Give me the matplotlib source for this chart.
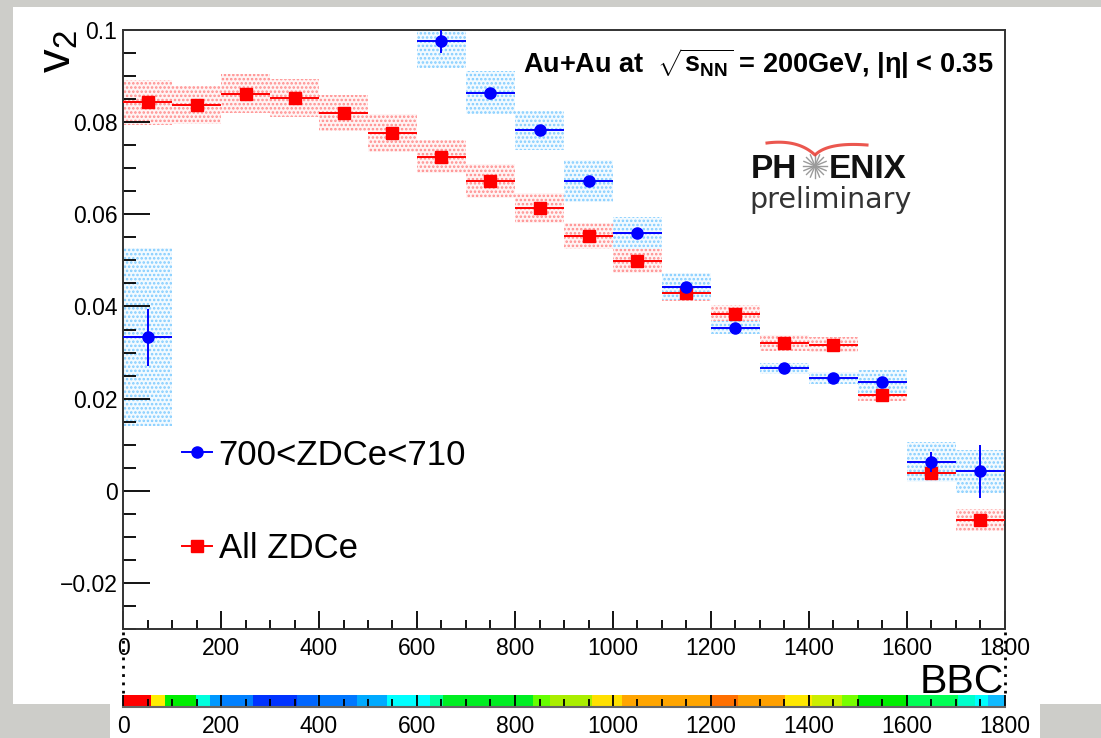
import numpy as np
import matplotlib.pyplot as plt
from matplotlib.lines import Line2D
from matplotlib.patches import Rectangle

plt.rcParams['font.family'] = ['Liberation Sans', 'DejaVu Sans']
plt.rcParams['mathtext.fontset'] = 'custom'
plt.rcParams['mathtext.rm'] = 'Liberation Sans'
plt.rcParams['mathtext.bf'] = 'Liberation Sans:bold'
plt.rcParams['mathtext.it'] = 'Liberation Sans:italic'
plt.rcParams['hatch.linewidth'] = 1.2

# 数据: BBC 分箱中心
bbc_all = [50, 150, 250, 350, 450, 550, 650, 750, 850, 950,
           1050, 1150, 1250, 1350, 1450, 1550, 1650, 1750]
v2_all = [0.0843, 0.0838, 0.0862, 0.0852, 0.0820, 0.0776, 0.0725, 0.0672, 0.0614,
          0.0553, 0.0499, 0.0430, 0.0384, 0.0321, 0.0317, 0.0207, 0.0039, -0.0064]
stat_all = [0.0006, 0.0006, 0.0006, 0.0006, 0.0006, 0.0006, 0.0006, 0.0006, 0.0006,
            0.0006, 0.0006, 0.0006, 0.0006, 0.0007, 0.0007, 0.0008, 0.0009, 0.0010]
sys_all = [0.0049, 0.0041, 0.0043, 0.0041, 0.0040, 0.0041, 0.0036, 0.0037, 0.0032,
           0.0029, 0.0026, 0.0018, 0.0020, 0.0018, 0.0016, 0.0012, 0.0010, 0.0024]

bbc_zdc = [50, 650, 750, 850, 950, 1050, 1150, 1250, 1350, 1450, 1550, 1650, 1750]
v2_zdc = [0.0333, 0.0977, 0.0864, 0.0782, 0.0672, 0.0559, 0.0443, 0.0354, 0.0266,
          0.0244, 0.0237, 0.0062, 0.0042]
stat_zdc = [0.0062, 0.0026, 0.0008, 0.0008, 0.0008, 0.0008, 0.0008, 0.0008, 0.0008,
            0.0008, 0.0010, 0.0022, 0.0057]
sys_zdc = [0.0193, 0.0060, 0.0046, 0.0043, 0.0046, 0.0035, 0.0030, 0.0014, 0.0012,
           0.0013, 0.0025, 0.0043, 0.0047]

bin_width = 100

# 下方色条 (BBC 分段颜色)
cbar_edges = [0, 57, 86, 149, 178, 198, 265, 355, 396, 478, 539, 626, 653, 837, 871,
              957, 1018, 1202, 1255, 1351, 1406, 1467, 1500, 1602, 1704, 1739, 1765, 1800]
cbar_colors = ['#ff0000', '#ffee00', '#00ee00', '#00ffdd', '#0099ff', '#0080ff',
               '#0033ff', '#0066ff', '#0077ff', '#00aaff', '#00ffff', '#00ff99',
               '#00ee22', '#66ff00', '#aaee00', '#ffe000', '#ffa500', '#ff7000',
               '#ffa000', '#ffe800', '#ccee00', '#77ff00', '#00ee00', '#00ff55',
               '#00ffcc', '#00ffff', '#11bbff']

W, H = 1101, 738
fig = plt.figure(figsize=(W / 100, H / 100), dpi=100, facecolor='#cdcdc9')
fig.patches.append(Rectangle((13 / W, 1 - 704 / H), 1 - 13 / W, 697 / H,
                             transform=fig.transFigure, fc='white', ec='none', zorder=-10))
fig.patches.append(Rectangle((110 / W, 0), 930 / W, 1 - 704 / H + 0.002,
                             transform=fig.transFigure, fc='white', ec='none', zorder=-10))

ax = fig.add_axes([123 / W, 1 - 629 / H, 882 / W, 599 / H])

# 系统误差框
v2a = np.array(v2_all)
sa = np.array(sys_all)
ax.bar(bbc_all, 2 * sa, bottom=v2a - sa, width=bin_width, facecolor='#fff4f4',
       edgecolor='#ff8c8c', hatch='....', linewidth=0, zorder=1)
v2z = np.array(v2_zdc)
sz = np.array(sys_zdc)
ax.bar(bbc_zdc, 2 * sz, bottom=v2z - sz, width=bin_width, facecolor='#f2faff',
       edgecolor='#80ccff', hatch='....', linewidth=0, zorder=1)

# 统计误差 + 数据点
ax.errorbar(bbc_all, v2_all, xerr=bin_width / 2, yerr=stat_all, fmt='s', color='red',
            ms=8.5, lw=1.4, capsize=0, zorder=3)
ax.errorbar(bbc_zdc, v2_zdc, xerr=bin_width / 2, yerr=stat_zdc, fmt='o', color='blue',
            ms=8, lw=1.4, capsize=0, zorder=4)

ax.set_xlim(0, 1800)
ax.set_ylim(-0.03, 0.1)
ax.set_xticks(np.arange(0, 1801, 200))
ax.set_xticks(np.arange(0, 1801, 50), minor=True)
ax.set_yticks([-0.02, 0, 0.02, 0.04, 0.06, 0.08, 0.1])
ax.set_yticklabels(['\u22120.02', '0', '0.02', '0.04', '0.06', '0.08', '0.1'])
ax.set_yticks(np.arange(-0.03, 0.1001, 0.005), minor=True)
ax.tick_params(axis='x', which='major', direction='in', length=12.7, width=1.3, labelsize=16.5, pad=6)
ax.tick_params(axis='x', which='minor', direction='in', length=6.5, width=1.3)
ax.tick_params(axis='y', which='major', direction='in', length=19.5, width=1.3, labelsize=16.5, pad=4)
ax.tick_params(axis='y', which='minor', direction='in', length=9.5, width=1.3)
for sp in ax.spines.values():
    sp.set_linewidth(1.4)
    sp.set_color('#333333')

# 图例
handles = [Line2D([0], [0], color='blue', marker='o', ms=8, lw=1.4),
           Line2D([0], [0], color='red', marker='s', ms=8.5, lw=1.4)]
ax.legend(handles, ['700<ZDCe<710', 'All ZDCe'], loc='upper left',
          bbox_to_anchor=(0.067, 0.318), frameon=False, fontsize=25,
          handlelength=0.85, handletextpad=0.2, labelspacing=1.74,
          borderpad=0, borderaxespad=0)

ax.text(0.9864, 0.943, r'Au+Au at  $\sqrt{\mathbf{s}_{\mathbf{NN}}}$ = 200GeV, |$\mathbf{\eta}$| < 0.35',
        transform=ax.transAxes, ha='right', va='center', fontsize=19.5, weight='bold')

# PHENIX 标志
fig.text(751 / W, 1 - 178 / H, 'PH', fontsize=24, weight='bold', color='#111111', va='baseline')
fig.text(829 / W, 1 - 178 / H, 'ENIX', fontsize=24, weight='bold', color='#111111', va='baseline')
fig.text(749 / W, 1 - 208 / H, 'preliminary', fontsize=20.5, color='#333333', va='baseline',
         family='DejaVu Sans')
cx, cy = 815, 166
for ang in np.linspace(0, np.pi, 9)[:-1]:
    dx, dy = 12 * np.cos(ang), 12 * np.sin(ang)
    fig.add_artist(Line2D([(cx - dx) / W, (cx + dx) / W], [1 - (cy - dy) / H, 1 - (cy + dy) / H],
                          transform=fig.transFigure, color='#9a9a9a', lw=1.0))
t = np.linspace(0, 1, 30)
lx = (1 - t) ** 2 * 767 + 2 * (1 - t) * t * 798 + t ** 2 * 815
ly = (1 - t) ** 2 * 143 + 2 * (1 - t) * t * 139 + t ** 2 * 155
rx = (1 - t) ** 2 * 815 + 2 * (1 - t) * t * 828 + t ** 2 * 867
ry = (1 - t) ** 2 * 155 + 2 * (1 - t) * t * 142 + t ** 2 * 145
fig.add_artist(Line2D(np.concatenate([lx, rx]) / W, 1 - np.concatenate([ly, ry]) / H,
                      transform=fig.transFigure, color='#e83a30', lw=2.2, alpha=0.85))

# 轴标题
fig.text(37 / W, 1 - 30 / H, r'v$_{\mathrm{2}}$', rotation=90, ha='left', va='top', fontsize=34)
fig.text(1004 / W, 1 - 693 / H, 'BBC', ha='right', va='baseline', fontsize=29.5)

# x=0 与 x=1800 处的点线
for xv in (0, 1800):
    ax.plot([xv, xv], [-0.005, -0.107], transform=ax.get_xaxis_transform(), clip_on=False,
            color='black', lw=2, ls=(0, (1, 2)))

# 色条
cax = fig.add_axes([123 / W, 1 - 707 / H, 882 / W, 12 / H])
segs = [(cbar_edges[i], cbar_edges[i + 1] - cbar_edges[i]) for i in range(len(cbar_colors))]
cax.broken_barh(segs, (0, 1), facecolors=cbar_colors, edgecolors='none')
cax.set_xlim(0, 1800)
cax.set_ylim(0, 1)
cax.set_yticks([])
cax.set_xticks(np.arange(0, 1801, 200))
cax.set_xticks(np.arange(0, 1801, 50), minor=True)
cax.tick_params(axis='x', which='major', direction='in', length=8.6, width=1.3, labelsize=16.5, pad=6)
cax.tick_params(axis='x', which='minor', direction='in', length=6.0, width=1.3)
for k in ('top', 'left', 'right'):
    cax.spines[k].set_visible(False)
cax.spines['bottom'].set_color('#666666')
cax.spines['bottom'].set_linewidth(1.5)

plt.savefig('out.png', dpi=100, facecolor=fig.get_facecolor())
